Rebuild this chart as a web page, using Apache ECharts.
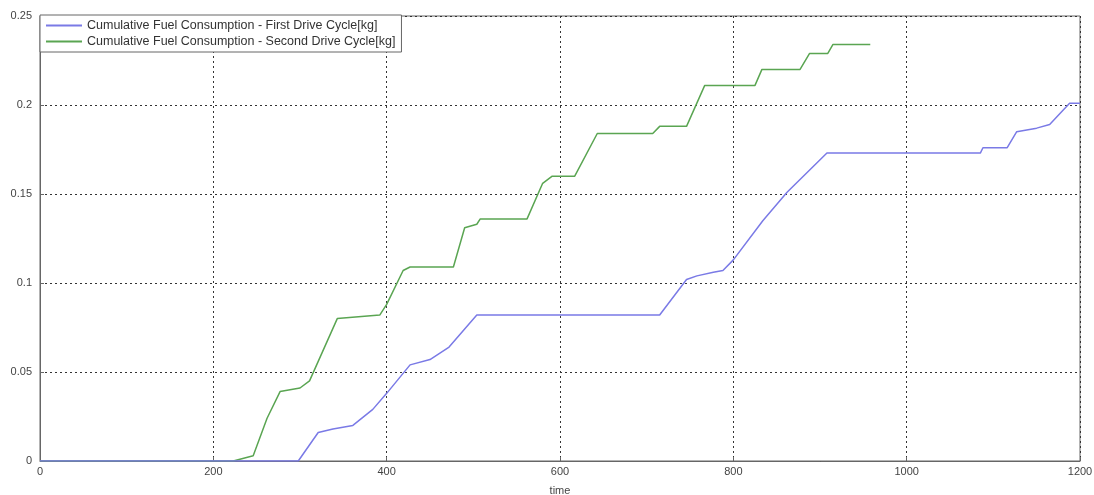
<!DOCTYPE html>
<html>
<head>
<meta charset="utf-8">
<script src="https://cdn.jsdelivr.net/npm/echarts@6/dist/echarts.min.js"></script>
<style>
html,body{margin:0;padding:0;background:#fff;}
#chart{width:1094px;height:495px;}
</style>
</head>
<body>
<div id="chart"></div>
<script>
// data
var firstTime = [0, 298, 321, 338, 361, 384, 400, 427, 450, 472, 504, 715, 746, 758, 777, 788, 800, 834, 862, 908, 1085, 1088, 1116, 1127, 1150, 1165, 1188, 1200];
var firstFuel = [0, 0, 0.016, 0.018, 0.020, 0.029, 0.038, 0.054, 0.057, 0.064, 0.082, 0.082, 0.102, 0.104, 0.106, 0.107, 0.113, 0.135, 0.151, 0.173, 0.173, 0.176, 0.176, 0.185, 0.187, 0.189, 0.201, 0.201];

var secondTime = [0, 223, 246, 262, 277, 300, 311, 343, 392, 400, 419, 427, 477, 490, 504, 508, 562, 580, 591, 617, 643, 707, 715, 746, 767, 825, 833, 877, 888, 909, 915, 958];
var secondFuel = [0, 0, 0.003, 0.024, 0.039, 0.041, 0.045, 0.080, 0.082, 0.088, 0.107, 0.109, 0.109, 0.131, 0.133, 0.136, 0.136, 0.156, 0.160, 0.160, 0.184, 0.184, 0.188, 0.188, 0.211, 0.211, 0.220, 0.220, 0.229, 0.229, 0.234, 0.234];

var xTicks = [0, 200, 400, 600, 800, 1000, 1200];
var yTicks = [0, 0.05, 0.1, 0.15, 0.2, 0.25];

var names = ['Cumulative Fuel Consumption - First Drive Cycle[kg]', 'Cumulative Fuel Consumption - Second Drive Cycle[kg]'];

function pairs(xs, ys){
	var out = [];
	for(var i=0;i<xs.length;i++){
		out.push([xs[i], ys[i]]);
	}
	return out;
}

var myChart = echarts.init(document.getElementById('chart'));
var lbl = {color:'#444', fontFamily:'Liberation Sans, Arial', fontSize:11};
var option = {
	animation: false,
	grid: {left:40, right:14, top:16, bottom:34, show:true, borderColor:'#666', borderWidth:1,
		containLabel:false, outerBoundsMode:'none'},
	legend: {
		left:40, top:15, orient:'vertical', itemGap:3,
		itemWidth:36, itemHeight:2,
		backgroundColor:'#fff', borderColor:'#666', borderWidth:1,
		padding:[4,6,4,6],
		textStyle:{color:'#333', fontFamily:'Liberation Sans, Arial', fontSize:12.5},
		icon:'rect',
		data: names
	},
	xAxis: {
		type:'value', min:0, max:1200, interval:200,
		name:'time', nameLocation:'middle', nameGap:24,
		nameTextStyle: lbl,
		axisLine:{show:true, lineStyle:{color:'#666'}},
		axisTick:{show:true, inside:true, length:4, lineStyle:{color:'#666'}},
		axisLabel: echarts.util.extend({margin:5, formatter:function(v){return xTicks.indexOf(v)>=0 ? String(v) : '';}}, lbl),
		splitLine:{show:true, lineStyle:{color:'#333', type:[2,3], width:1}}
	},
	yAxis: {
		type:'value', min:0, max:0.25, interval:0.05,
		axisLine:{show:true, lineStyle:{color:'#666'}},
		axisTick:{show:true, inside:true, length:4, lineStyle:{color:'#666'}},
		axisLabel: echarts.util.extend({margin:8, formatter:function(v){
			for(var i=0;i<yTicks.length;i++){ if(Math.abs(yTicks[i]-v)<1e-9) return String(yTicks[i]); }
			return '';
		}}, lbl),
		splitLine:{show:true, lineStyle:{color:'#333', type:[2,3], width:1}}
	},
	series: [
		{name:names[0], type:'line', data:pairs(firstTime, firstFuel), showSymbol:false, symbol:'none',
		 lineStyle:{color:'#7a7ae6', width:1.5}, itemStyle:{color:'#7a7ae6'}, z:3},
		{name:names[1], type:'line', data:pairs(secondTime, secondFuel), showSymbol:false, symbol:'none',
		 lineStyle:{color:'#5aa552', width:1.5}, itemStyle:{color:'#5aa552'}, z:2}
	]
};
myChart.setOption(option);
</script>
</body>
</html>
